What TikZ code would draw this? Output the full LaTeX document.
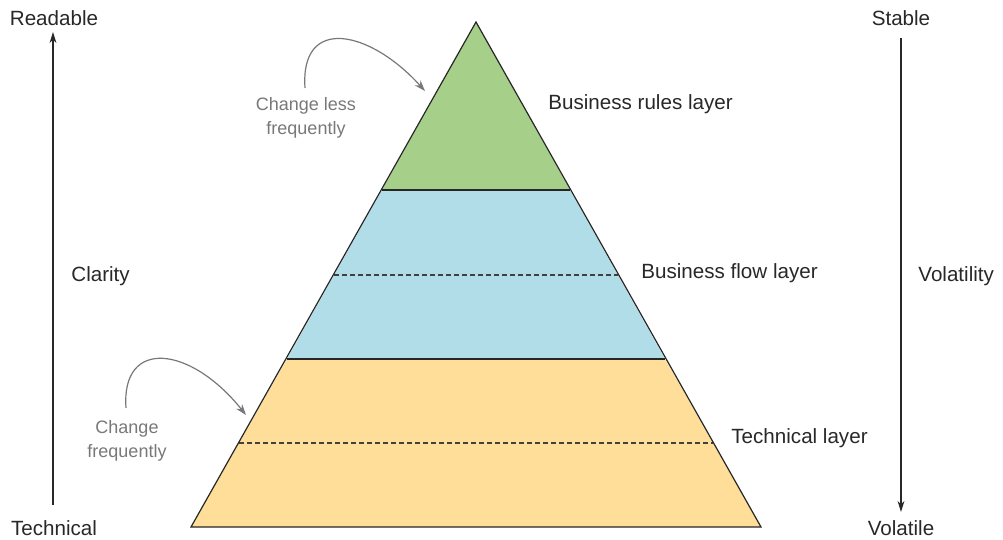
\documentclass[tikz,border=0pt]{standalone}
\usepackage{fontspec}
\setmainfont{Liberation Sans}
\usetikzlibrary{arrows.meta}
\definecolor{rulesgreen}{RGB}{166,208,137}
\definecolor{flowblue}{RGB}{176,221,231}
\definecolor{techyellow}{RGB}{254,222,152}
\definecolor{txt}{RGB}{40,40,40}
\definecolor{note}{RGB}{120,120,120}
\tikzset{
  lbl/.style={text=txt, font=\fontsize{10.3}{12}\selectfont, inner sep=0pt},
  notelbl/.style={text=note, font=\fontsize{9}{12}\selectfont, align=center, inner sep=0pt},
  axis/.style={draw=txt, line width=0.6pt, -{Stealth[length=5.5pt,width=3.4pt]}},
  notearrow/.style={draw=note, line width=0.6pt, -{Stealth[length=5.5pt,width=3.8pt]}},
  edge/.style={draw=black!85, line width=0.6pt},
  dashline/.style={draw=black!75, line width=0.55pt, dash pattern=on 2.5pt off 1.5pt}
}
\begin{document}
\begin{tikzpicture}[x=0.5pt,y=-0.5pt]
\useasboundingbox (0,0) rectangle (1003,540);
% key points
\coordinate (apex) at (476,22);
\coordinate (gL) at (382,190); \coordinate (gR) at (570,190);
\coordinate (bL) at (287,359); \coordinate (bR) at (665,359);
\coordinate (yL) at (191,527); \coordinate (yR) at (761,527);
\coordinate (d1L) at (334,275); \coordinate (d1R) at (618,275);
\coordinate (d2L) at (239,443); \coordinate (d2R) at (713,443);
% fills
\fill[rulesgreen] (apex) -- (gR) -- (gL) -- cycle;
\fill[flowblue] (gL) -- (gR) -- (bR) -- (bL) -- cycle;
\fill[techyellow] (bL) -- (bR) -- (yR) -- (yL) -- cycle;
% dashed lines
\draw[dashline] (d1L) -- (d1R);
\draw[dashline] (d2L) -- (d2R);
% outlines
\draw[edge] (gL) -- (gR);
\draw[edge] (bL) -- (bR);
\draw[edge, line join=miter] (apex) -- (yR) -- (yL) -- cycle;
% layer labels
\node[lbl, anchor=west] (rules) at (548,104) {Business rules layer};
\node[lbl, anchor=west] (flow) at (641,273) {Business flow layer};
\node[lbl, anchor=west] (tech) at (731,438) {Technical layer};
% left axis
\node[lbl] (readable) at (54,18) {Readable};
\node[lbl] (technical) at (54,528) {Technical};
\node[lbl, anchor=west] (clarity) at (71,276) {Clarity};
\coordinate (la0) at (53,505); \coordinate (la1) at (53,32);
\draw[axis] (la0) -- (la1);
% right axis
\node[lbl] (stable) at (901,18) {Stable};
\node[lbl] (volatile) at (901,528) {Volatile};
\node[lbl, anchor=west] (volatility) at (918,276) {Volatility};
\coordinate (ra0) at (901,38); \coordinate (ra1) at (901,512);
\draw[axis] (ra0) -- (ra1);
% notes
\node[notelbl] (less) at (306,118) {Change less\\frequently};
\node[notelbl] (freq) at (127,441) {Change\\frequently};
\coordinate (lessS) at (305,88); \coordinate (lessE) at (425,91);
\coordinate (freqS) at (126,408); \coordinate (freqE) at (246,415);
\draw[notearrow] (lessS) .. controls (300,15) and (370,30) .. (lessE);
\draw[notearrow] (freqS) .. controls (121,338) and (190,345) .. (freqE);
\end{tikzpicture}
\end{document}
